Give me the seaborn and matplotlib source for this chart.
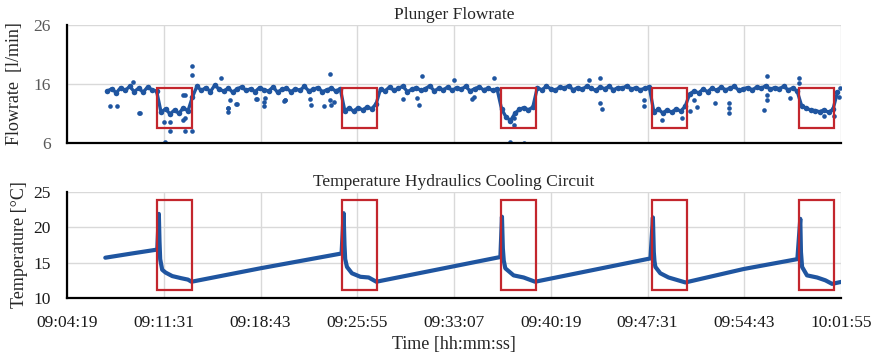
# Plunger flowrate and hydraulics cooling temperature over one session
# values, time given as seconds after 09:04:19

import numpy as np
import pandas as pd
import matplotlib.pyplot as plt
import seaborn as sns
from matplotlib.patches import Rectangle

tick_labels = ["09:04:19", "09:11:31", "09:18:43", "09:25:55", "09:33:07",
               "09:40:19", "09:47:31", "09:54:43", "10:01:55"]
tick_step = 432  # seconds between labels

# flowrate band, one reading every 20 s starting at 180 s
flow_start = 180
flow_step = 20
flow_values = [
    14.8, 15.2, 14.5, 15.4, 14.9, 15.6, 14.7, 15.3, 14.6, 15.5, 15.0, 14.8,
    11.2, 11.8, 10.9, 11.6, 11.0, 12.0, 11.4, 13.8,
    15.6, 14.9, 15.4, 14.7, 15.8, 15.1, 14.8, 15.3, 14.6, 15.2, 15.5, 14.9,
    15.2, 14.7, 15.4, 15.0, 14.8, 15.5, 14.6, 15.1, 15.3, 14.7, 15.2, 14.9,
    15.6, 14.8, 15.1, 15.4, 14.7, 15.0, 15.3, 14.8, 15.2,
    11.5, 11.9, 11.4, 12.0, 11.6, 12.1, 11.8, 12.6,
    15.2, 14.8, 15.5, 14.9, 15.3, 15.6, 14.7, 15.1, 15.4, 14.9, 15.2, 15.7,
    14.8, 15.3, 15.0, 15.5, 14.9, 15.4, 15.1, 15.6, 14.8, 15.2, 15.5, 15.0,
    15.3, 14.9, 15.2,
    11.8, 10.4, 9.8, 11.0, 11.7, 12.0, 11.6, 12.1,
    15.4, 15.0, 15.6, 15.2, 14.9, 15.5, 15.3, 15.7, 15.0, 15.4, 15.1, 15.6,
    15.3, 14.9, 15.5, 15.2, 15.6, 15.0, 15.4, 15.3, 15.7, 15.1, 15.4, 15.0,
    15.3, 15.5,
    11.3, 11.7, 11.1, 11.6, 11.2, 11.8, 11.4, 12.2,
    14.3, 14.8, 14.5, 15.1, 14.7, 15.3, 14.9, 15.5, 15.0, 15.3, 15.6, 14.9,
    15.2, 15.4, 15.0, 15.5, 15.3, 15.7, 15.1, 15.4, 15.2, 15.6, 15.0, 15.3,
    14.8,
    12.3, 11.9, 11.6, 11.5, 11.3, 11.6, 11.2, 11.7,
    14.6,
]

# scattered single readings away from the band
spike_t = [194, 223, 295, 320, 327, 431, 436, 458, 461, 518, 520, 528, 528,
           528, 558, 558, 558, 689, 717, 717, 721, 729, 756, 759, 845, 848,
           878, 878, 882, 967, 972, 975, 1086, 1089, 1146, 1176, 1176, 1179,
           1190, 1500, 1563, 1570, 1585, 1726, 1808, 1815, 1905, 1979, 1994,
           1994, 2039, 2329, 2381, 2381, 2389, 2575, 2575, 2657, 2746, 2783,
           2798, 2813, 2895, 2954, 2954, 2954, 3110, 3125, 3125, 3125, 3230,
           3267, 3267, 3378, 3423, 3446, 3453]
spike_v = [12.2, 12.3, 16.4, 11.0, 11.0, 9.6, 6.1, 9.6, 8.1, 9.9, 14.1, 8.1,
           14.1, 10.2, 8.1, 19.1, 17.5, 17.0, 11.3, 12.0, 11.9, 13.3, 12.6,
           12.6, 13.4, 13.4, 12.2, 12.9, 13.6, 13.1, 13.3, 13.3, 13.4, 12.4,
           12.3, 17.7, 13.3, 12.4, 13.0, 13.4, 13.6, 12.4, 17.3, 16.7, 13.4,
           13.8, 17.1, 6.2, 9.0, 10.2, 6.05, 16.7, 17.0, 12.7, 11.7, 12.2,
           13.3, 9.9, 10.2, 11.5, 13.3, 12.1, 12.7, 11.0, 12.7, 11.9, 11.6,
           17.4, 14.1, 13.3, 13.6, 17.0, 16.1, 10.5, 10.5, 13.8, 15.3]

# temperature trace
temp_t = [171, 290, 403, 410, 413, 416, 425, 440, 470, 510, 540, 556,
          863, 1226, 1235, 1239, 1242, 1250, 1272, 1310, 1347, 1381,
          1935, 1942, 1946, 1950, 1957, 1994, 2039, 2090,
          2605, 2616, 2620, 2623, 2627, 2649, 2686, 2761,
          3021, 3261, 3274, 3277, 3282, 3304, 3349, 3386, 3416, 3460]
temp_v = [15.7, 16.3, 16.85, 21.9, 18.0, 15.5, 14.0, 13.6, 13.1, 12.8, 12.6, 12.3,
          14.2, 16.3, 22.0, 17.5, 15.5, 14.4, 13.5, 13.0, 12.9, 12.3,
          15.8, 21.5, 17.0, 15.3, 14.2, 13.2, 12.9, 12.3,
          15.6, 21.4, 16.5, 15.2, 14.4, 13.5, 12.9, 12.2,
          14.1, 15.5, 21.2, 16.5, 14.4, 13.2, 12.9, 12.5, 12.0, 12.3]

# highlighted cool-down windows
box_start = [402, 1230, 1937, 2611, 3269]
box_width = 156
flow_box = (8.5, 15.3)
temp_box = (11.1, 23.8)

flow = pd.DataFrame({"t": flow_start + flow_step * np.arange(len(flow_values)),
                     "flow": flow_values})
spikes = pd.DataFrame({"t": spike_t, "flow": spike_v})
temp = pd.DataFrame({"t": temp_t, "temp": temp_v})

sns.set_style("whitegrid")
plt.rcParams["font.family"] = ["Liberation Serif", "DejaVu Serif"]

blue = "#1F55A0"
red = "#C3262D"
grid_c = "#D9D9D9"

fig = plt.figure(figsize=(8.77, 3.55), dpi=100)
ax1 = fig.add_axes([0.0764, 0.5972, 0.8826, 0.3324])
ax2 = fig.add_axes([0.0764, 0.1606, 0.8826, 0.2986])

xticks = [i * tick_step for i in range(len(tick_labels))]

# top: flowrate
sns.lineplot(data=flow, x="t", y="flow", ax=ax1, color=blue, lw=2.4,
             marker="o", markersize=4.0, markeredgewidth=0)
sns.scatterplot(data=spikes, x="t", y="flow", ax=ax1, color=blue, s=11,
                linewidth=0)
for b in box_start:
    ax1.add_patch(Rectangle((b, flow_box[0]), box_width, flow_box[1] - flow_box[0],
                            fill=False, edgecolor=red, lw=1.6, zorder=5))
ax1.set_xlim(0, xticks[-1])
ax1.set_ylim(6, 26)
ax1.set_yticks([6, 16, 26])
ax1.set_xticks(xticks)
ax1.set_xticklabels([])
ax1.set_title("Plunger Flowrate", fontsize=12.5, color="#262626", pad=4)
ax1.set_ylabel("Flowrate  [l/min]", fontsize=13, color="#262626", labelpad=8)
ax1.set_xlabel("")
ax1.tick_params(axis="y", direction="inout", length=7, width=1.5,
                labelsize=12.5, labelcolor="#595959", color="black", pad=8)
ax1.tick_params(axis="x", length=0)

# bottom: temperature
sns.lineplot(data=temp, x="t", y="temp", ax=ax2, color=blue, lw=3.0)
for b in box_start:
    ax2.add_patch(Rectangle((b, temp_box[0]), box_width, temp_box[1] - temp_box[0],
                            fill=False, edgecolor=red, lw=1.6, zorder=5))
ax2.set_xlim(0, xticks[-1])
ax2.set_ylim(10, 25)
ax2.set_yticks([10, 15, 20, 25])
ax2.set_xticks(xticks)
ax2.set_xticklabels(tick_labels)
ax2.set_title("Temperature Hydraulics Cooling Circuit", fontsize=12.5,
              color="#262626", pad=4)
ax2.set_ylabel("Temperature [°C]", fontsize=13, color="#262626", labelpad=4)
ax2.set_xlabel("Time [hh:mm:ss]", fontsize=13, color="#262626", labelpad=3)
ax2.tick_params(axis="y", direction="inout", length=7, width=1.5,
                labelsize=12.5, labelcolor="#1a1a1a", color="black", pad=8)
ax2.tick_params(axis="x", direction="inout", length=7, width=1.5,
                labelsize=12.5, labelcolor="#1a1a1a", color="black", pad=9)

for ax in (ax1, ax2):
    ax.grid(True, color=grid_c, lw=1.0)
    for side in ("top", "right"):
        ax.spines[side].set_visible(False)
    for side in ("left", "bottom"):
        ax.spines[side].set_color("black")
        ax.spines[side].set_linewidth(1.6)

fig.savefig("out.png", dpi=100)
